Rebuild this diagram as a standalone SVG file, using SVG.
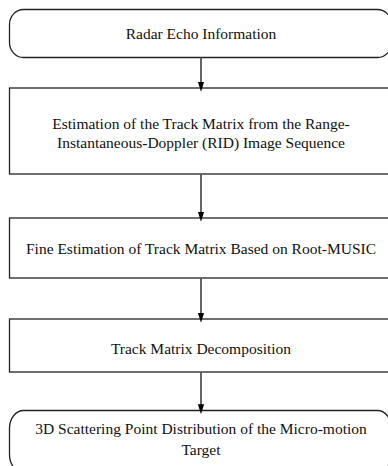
<svg xmlns="http://www.w3.org/2000/svg" width="388" height="466" viewBox="0 0 388 466">
<defs>
<marker id="ah" markerWidth="10" markerHeight="16" refX="10" refY="5" orient="auto" markerUnits="userSpaceOnUse" viewBox="0 0 16 10">
<path d="M0,0 L16,5 L0,10 Z" fill="#000"/>
</marker>
</defs>
<style>
.box{fill:#fff;stroke:#222;stroke-width:1.3}
.t{font-family:'Times New Roman','Liberation Serif','DejaVu Serif',serif;font-size:15.5px;fill:#111;text-anchor:middle}
.c{stroke:#555;stroke-width:1.8;fill:none}
</style>
<rect width="388" height="466" fill="#fff"/>
<g id="n1">
<rect class="box" x="9.5" y="9.5" width="382" height="48" rx="14" ry="15"/>
<text class="t" x="201" y="39">Radar Echo Information</text>
</g>
<g id="n2">
<rect class="box" x="9.5" y="88" width="382" height="86"/>
<text class="t" x="201" y="129">Estimation of the Track Matrix from the Range-</text>
<text class="t" x="201" y="148">Instantaneous-Doppler (RID) Image Sequence</text>
</g>
<g id="n3">
<rect class="box" x="9.5" y="218" width="382" height="60"/>
<text class="t" x="201" y="254">Fine Estimation of Track Matrix Based on Root-MUSIC</text>
</g>
<g id="n4">
<rect class="box" x="9.5" y="319" width="382" height="53"/>
<text class="t" x="201" y="354">Track Matrix Decomposition</text>
</g>
<g id="n5">
<rect class="box" x="9.5" y="410.5" width="382" height="62" rx="14" ry="18"/>
<text class="t" x="201" y="434">3D Scattering Point Distribution of the Micro-motion</text>
<text class="t" x="201" y="455">Target</text>
</g>
<g id="connectors">
<path class="c" d="M201,57.5 V88" marker-end="url(#ah)"/>
<path class="c" d="M201,174 V218" marker-end="url(#ah)"/>
<path class="c" d="M201,278 V319" marker-end="url(#ah)"/>
<path class="c" d="M201,372 V410.5" marker-end="url(#ah)"/>
</g>
</svg>
